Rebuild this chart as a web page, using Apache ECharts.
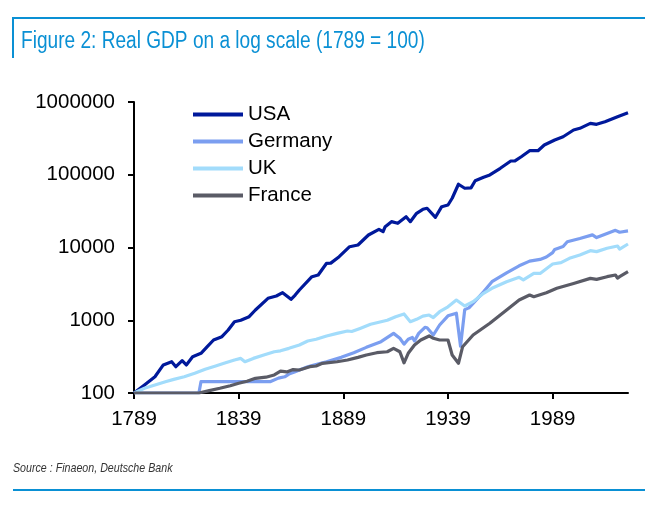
<!DOCTYPE html>
<html>
<head>
<meta charset="utf-8">
<script src="https://cdn.jsdelivr.net/npm/echarts@6/dist/echarts.min.js"></script>
<style>
html,body{margin:0;padding:0;background:#fff}
#chart{width:645px;height:506px}
</style>
</head>
<body>
<div id="chart"></div>
<script>
var seriesNames = ['USA', 'Germany', 'UK', 'France'];
var xTickYears = [1789, 1839, 1889, 1939, 1989];

// [year, real GDP index, 1789 = 100]
var usa = [[1789,100],[1794,129],[1799,167],[1803,243],[1807,269],[1809,230],[1812,278],[1814,243],
	[1817,315],[1821,351],[1824,433],[1827,535],[1831,594],[1834,734],[1837,955],[1840,1000],[1844,1119],
	[1847,1384],[1853,2003],[1857,2154],[1860,2393],[1864,1940],[1866,2223],[1868,2606],[1874,3971],
	[1877,4188],[1881,6064],[1883,6100],[1887,7478],[1892,10257],[1896,10820],[1901,14851],[1906,17780],
	[1908,16500],[1909,19320],[1912,22650],[1915,21500],[1919,26500],[1921,22650],[1924,29500],[1927,33500],
	[1929,34600],[1933,26000],[1936,36400],[1939,38400],[1941,47500],[1944,74000],[1947,65200],[1950,66000],
	[1952,82800],[1956,92300],[1959,99300],[1964,122700],[1969,154500],[1971,155000],[1974,177000],
	[1978,214000],[1982,214000],[1985,256000],[1990,300500],[1994,333000],[1999,412000],[2002,434600],
	[2007,509000],[2010,493000],[2014,536000],[2020,628000],[2025,713000]];
var germany = [[1789,100],[1820,100],[1821,143],[1854,143],[1858,160],[1861,167],[1863,182],[1866,196],
	[1868,207],[1872,230],[1875,243],[1881,269],[1888,309],[1894,358],[1900,424],[1907,508],[1913,660],
	[1916,565],[1918,470],[1920,548],[1922,580],[1923,520],[1925,660],[1928,800],[1929,790],[1932,627],
	[1935,860],[1939,1150],[1943,1250],[1945,440],[1947,1400],[1949,1480],[1951,1710],[1956,2460],
	[1960,3388],[1967,4490],[1973,5600],[1978,6500],[1983,6850],[1986,7400],[1989,8500],[1990,9400],
	[1994,10300],[1996,12000],[2002,13300],[2008,14900],[2010,13700],[2015,15600],[2019,17200],
	[2021,16200],[2025,16900]];
var uk = [[1789,100],[1794,116],[1799,129],[1804,143],[1808,154],[1813,167],[1818,187],[1823,212],
	[1828,235],[1832,256],[1837,284],[1840,299],[1842,269],[1846,299],[1851,333],[1856,369],[1859,380],
	[1863,411],[1868,457],[1872,518],[1876,548],[1881,608],[1886,660],[1891,712],[1893,700],[1897,773],
	[1902,880],[1907,955],[1910,1000],[1914,1119],[1918,1220],[1921,955],[1924,1030],[1927,1140],
	[1930,1180],[1932,1090],[1935,1310],[1939,1530],[1943,1897],[1947,1570],[1951,1800],[1956,2346],
	[1960,2750],[1967,3388],[1973,3890],[1975,3600],[1980,4420],[1983,4400],[1989,5930],[1993,6180],
	[1997,7100],[2002,7890],[2007,9040],[2010,8780],[2015,9750],[2020,10490],[2021,9500],[2025,11170]];
var france = [[1789,100],[1820,100],[1825,108],[1830,116],[1835,126],[1839,136],[1843,145],[1847,159],
	[1852,165],[1856,177],[1859,200],[1862,195],[1865,210],[1868,207],[1873,230],[1876,235],[1879,256],
	[1886,269],[1891,284],[1896,309],[1900,333],[1905,358],[1910,369],[1913,411],[1916,369],[1918,260],
	[1920,351],[1923,457],[1926,535],[1930,608],[1932,565],[1935,535],[1939,535],[1941,333],[1944,256],
	[1946,433],[1951,627],[1959,910],[1967,1383],[1973,1897],[1978,2223],[1980,2103],[1986,2393],
	[1991,2750],[1999,3200],[2007,3760],[2010,3650],[2015,3971],[2019,4188],[2020,3800],[2021,3971],
	[2025,4650]];

var seriesData = [usa, germany, uk, france];
var colors = ['#00199b', '#7b9ef0', '#a2dcfb', '#5a5b66'];
var blue = '#0a90d4';
var font = '"Liberation Sans", Arial, sans-serif';

var series = [];
for (var i = 0; i < seriesNames.length; i++) {
	series.push({
		name: seriesNames[i],
		type: 'line',
		data: seriesData[i],
		showSymbol: false,
		symbol: 'none',
		lineStyle: {width: 3.2, color: colors[i], join: 'round'},
		itemStyle: {color: colors[i]},
		z: 2 + i
	});
}

var chart = echarts.init(document.getElementById('chart'));
chart.setOption({
	animation: false,
	backgroundColor: '#fff',
	graphic: [
		{type: 'line', shape: {x1: 13, y1: 18, x2: 645, y2: 18}, style: {stroke: blue, lineWidth: 2}},
		{type: 'line', shape: {x1: 13, y1: 17, x2: 13, y2: 58}, style: {stroke: blue, lineWidth: 2}},
		{type: 'line', shape: {x1: 13, y1: 490, x2: 645, y2: 490}, style: {stroke: blue, lineWidth: 2}},
		// condensed look: the narrow fonts are not installed
		{type: 'text', x: 21, y: 42, scaleX: 0.83, style: {text: 'Figure 2: Real GDP on a log scale (1789 = 100)',
			fill: blue, font: '23px ' + font, verticalAlign: 'middle'}},
		{type: 'text', x: 13, y: 468, scaleX: 0.79, style: {text: 'Source : Finaeon, Deutsche Bank',
			fill: '#333', font: 'italic 13.5px ' + font, verticalAlign: 'middle'}}
	],
	legend: {
		orient: 'vertical',
		left: 193,
		top: 104,
		padding: 0,
		itemWidth: 50,
		itemHeight: 4,
		itemGap: 6,
		icon: 'rect',
		data: seriesNames,
		textStyle: {color: '#000', fontSize: 20.5, fontFamily: font, lineHeight: 20}
	},
	grid: {left: 134, right: 17, top: 102, bottom: 113, outerBoundsMode: 'none'},
	xAxis: {
		type: 'value',
		min: 1789,
		max: 2025,
		axisLine: {show: true, lineStyle: {color: '#000', width: 2}},
		axisTick: {show: true, length: 6, lineStyle: {color: '#000', width: 2}, customValues: xTickYears},
		axisLabel: {color: '#000', fontSize: 20.5, fontFamily: font, margin: 16, customValues: xTickYears,
			formatter: function (v) { return String(v); }},
		splitLine: {show: false}
	},
	yAxis: {
		type: 'log',
		logBase: 10,
		min: 100,
		max: 1000000,
		axisLine: {show: true, lineStyle: {color: '#000', width: 2}},
		axisTick: {show: true, length: 6, lineStyle: {color: '#000', width: 2}},
		axisLabel: {color: '#000', fontSize: 20.5, fontFamily: font, margin: 19,
			formatter: function (v) { return String(Math.round(v)); }},
		splitLine: {show: false}
	},
	series: series
});
</script>
</body>
</html>
